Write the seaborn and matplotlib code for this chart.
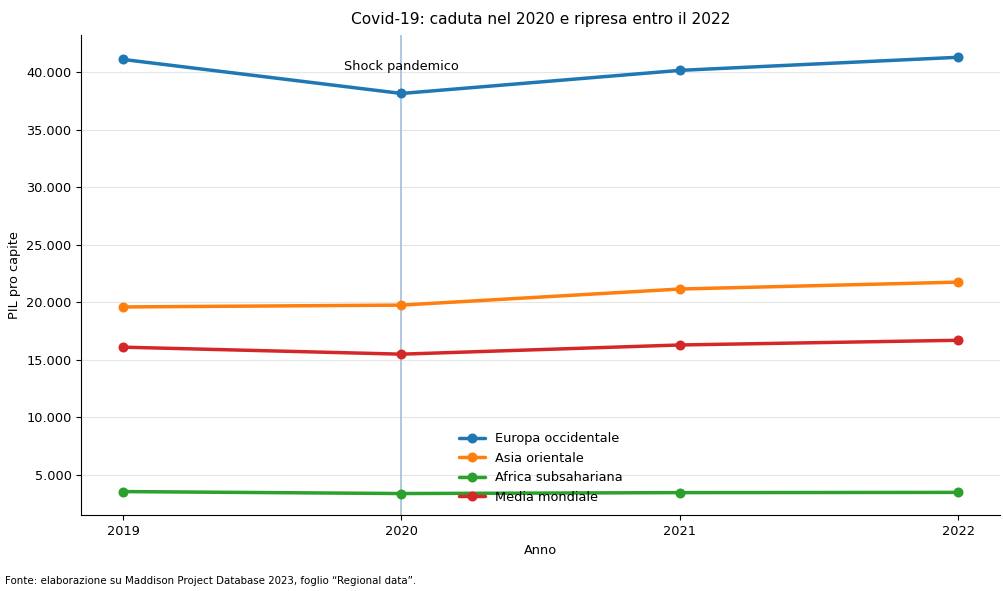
import pandas as pd
import matplotlib
matplotlib.use('Agg')
import matplotlib.pyplot as plt
import seaborn as sns
from matplotlib.ticker import FuncFormatter

# dati
anni = [2019, 2020, 2021, 2022]
europa = [41130, 38170, 40180, 41320]
asia = [19590, 19750, 21150, 21750]
africa = [3520, 3350, 3430, 3450]
media = [16090, 15480, 16280, 16690]
regioni = ['Europa occidentale', 'Asia orientale', 'Africa subsahariana', 'Media mondiale']

righe = []
for nome, valori in zip(regioni, [europa, asia, africa, media]):
    for a, v in zip(anni, valori):
        righe.append({'Anno': a, 'PIL pro capite': v, 'Regione': nome})
df = pd.DataFrame(righe)

sns.set_style('white')
plt.rcParams['font.family'] = ['DejaVu Sans']
plt.rcParams['text.color'] = 'black'
plt.rcParams['axes.labelcolor'] = 'black'
plt.rcParams['xtick.color'] = 'black'
plt.rcParams['ytick.color'] = 'black'
plt.rcParams['axes.edgecolor'] = 'black'

fig, ax = plt.subplots(figsize=(10.04, 5.91), dpi=100)
fig.subplots_adjust(left=0.081, right=0.996, top=0.94, bottom=0.128)

ax.grid(axis='y', color='#e6e6e6', linewidth=0.8)
ax.set_axisbelow(True)

sns.lineplot(data=df, x='Anno', y='PIL pro capite', hue='Regione', hue_order=regioni,
             palette=['#1f77b4', '#ff7f0e', '#2ca02c', '#d62728'],
             marker='o', markersize=7.2, markeredgewidth=0, linewidth=2.5, ax=ax)

ax.axvline(2020, color='#9bbbd8', linewidth=1.1, zorder=1)
ax.text(2020, 40500, 'Shock pandemico', ha='center', va='center', fontsize=9.3)

ax.set_xticks(anni)
ax.set_xticklabels([str(a) for a in anni])
ax.yaxis.set_major_formatter(FuncFormatter(lambda v, p: f'{v:,.0f}'.replace(',', '.')))
ax.tick_params(axis='both', labelsize=9.3, length=3.5, width=0.8, left=True, bottom=True)
ax.set_xlabel('Anno', fontsize=9.3)
ax.set_ylabel('PIL pro capite', fontsize=9.3)
ax.set_title('Covid-19: caduta nel 2020 e ripresa entro il 2022', fontsize=11.1, pad=8)
sns.despine(ax=ax)

ax.legend(loc='lower center', frameon=False, fontsize=9.3, handlelength=2, labelspacing=0.5,
          bbox_to_anchor=(0.5, 0.0))

fig.text(0.005, 0.012, 'Fonte: elaborazione su Maddison Project Database 2023, foglio \u201cRegional data\u201d.', fontsize=7.4)

plt.savefig('out.png', dpi=100)
